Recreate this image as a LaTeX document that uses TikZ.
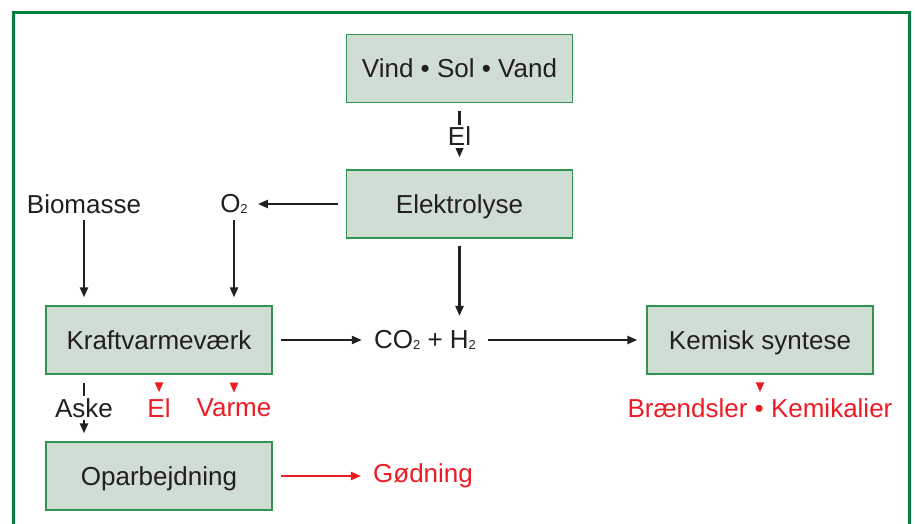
\documentclass[tikz,border=0pt]{standalone}
\usepackage{fontspec}
\setmainfont{Liberation Sans}
\usetikzlibrary{arrows.meta}
\definecolor{framegreen}{HTML}{00803C}
\definecolor{boxgreen}{HTML}{2E9450}
\definecolor{boxfill}{HTML}{CFDDD3}
\definecolor{txtred}{HTML}{ED1C24}
\definecolor{txtblack}{HTML}{231F20}
\newcommand{\subtwo}{\raisebox{-1.5pt}{\fontsize{13}{13}\selectfont 2}}
\begin{document}
\begin{tikzpicture}[x=1pt,y=1pt,
  every node/.style={font=\fontsize{26}{30}\selectfont, text=txtblack},
  box/.style={draw=boxgreen, line width=1.3pt, fill=boxfill, minimum width=226pt, minimum height=68pt, inner sep=0pt, text height=18.7pt, text depth=0pt},
  lbl/.style={inner sep=0pt},
  redlbl/.style={inner sep=0pt, text=txtred},
  arr/.style={draw=txtblack, line width=2.2pt, -{Triangle[length=10pt,width=8pt]}},
  rarr/.style={draw=txtred, line width=2.2pt, -{Triangle[length=10pt,width=8pt]}},
  gap/.style={fill=white, inner sep=2pt}
]
\useasboundingbox (0,0) rectangle (915,-524);
\draw[framegreen, line width=3pt] (13,-530) -- (13,-13) -- (909,-13) -- (909,-530);

\node[box] (vind) at (459.5,-68.5) {Vind • Sol • Vand};
\node[box] (elek) at (459.5,-204) {Elektrolyse};
\node[box] (kvv) at (159,-340) {Kraftvarmeværk};
\node[box] (kem) at (760,-340) {Kemisk syntese};
\node[box] (opa) at (159,-476) {Oparbejdning};

\node[lbl] (bio) at (84,-204) {Biomasse};
\node[lbl] (o2) at (234,-204) {O\subtwo};
\node[lbl] (co2) at (425,-340) {CO\subtwo{} + H\subtwo};
\node[redlbl] (elr) at (159,-408) {El};
\node[redlbl] (varme) at (234,-408) {Varme};
\node[redlbl] (braend) at (760,-408) {Brændsler • Kemikalier};
\node[redlbl] (god) at (423,-476) {Gødning};
\coordinate (askex) at (84,-408);

\draw[arr, shorten <=8pt, shorten >=12pt] (vind.south) -- node[gap]{El} (elek.north);
\draw[arr, shorten <=8pt, shorten >=10pt] (elek.west) -- (o2.east);
\draw[arr, shorten <=6pt, shorten >=8pt] (bio.south) -- (bio.south |- kvv.north);
\draw[arr, shorten <=6pt, shorten >=8pt] (o2.south) -- (o2.south |- kvv.north);
\draw[arr, shorten <=7pt, shorten >=14pt] (elek.south) -- (elek.south |- co2.north);
\draw[arr, shorten <=8pt, shorten >=12pt] (kvv.east) -- (co2.west);
\draw[arr, shorten <=12pt, shorten >=9pt] (co2.east) -- (kem.west);
\draw[arr, shorten <=8pt, shorten >=8pt] (kvv.south -| askex) -- node[gap]{Aske} (opa.north -| askex);
\draw[rarr, shorten <=8pt, shorten >=6pt] (kvv.south -| elr) -- (elr.north);
\draw[rarr, shorten <=8pt, shorten >=6pt] (kvv.south -| varme) -- (varme.north);
\draw[rarr, shorten <=8pt, shorten >=6pt] (kem.south) -- (braend.north);
\draw[rarr, shorten <=8pt, shorten >=12pt] (opa.east) -- (god.west);
\end{tikzpicture}
\end{document}
